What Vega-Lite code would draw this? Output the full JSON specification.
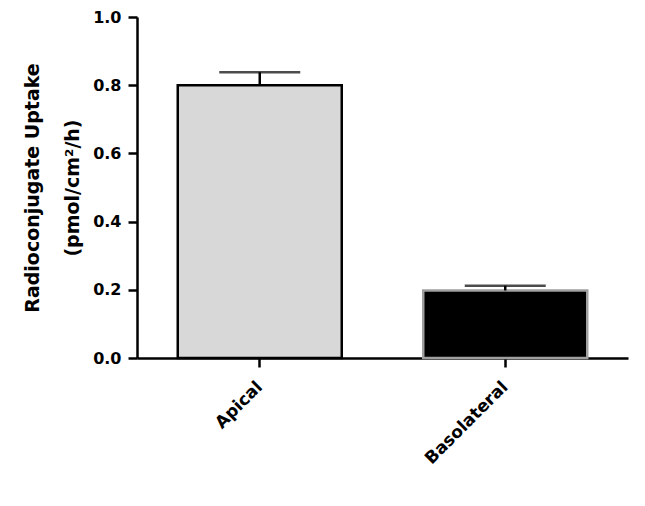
{
  "$schema": "https://vega.github.io/schema/vega-lite/v6.json",
  "autosize": "none",
  "padding": {"left": 137, "top": 17, "right": 17, "bottom": 148},
  "width": 491,
  "height": 341,
  "background": "white",
  "data": {"values": [
    {"group": "Apical", "mean": 0.80, "upper": 0.838},
    {"group": "Basolateral", "mean": 0.198, "upper": 0.212}
  ]},
  "encoding": {
    "x": {"field": "group", "type": "nominal", "sort": null,
      "scale": {"paddingInner": 0.332, "paddingOuter": 0.166},
      "axis": {"title": null, "labelAngle": -45, "labelAlign": "right", "labelBaseline": "middle",
        "labelFont": "DejaVu Sans", "labelFontSize": 17, "labelFontWeight": "bold", "labelColor": "black",
        "labelPadding": 17, "tickSize": 9, "tickWidth": 2.5, "tickColor": "black",
        "domainColor": "black", "domainWidth": 2.5}}
  },
  "layer": [
    {
      "mark": {"type": "bar", "strokeWidth": 2.5},
      "encoding": {
        "y": {"field": "mean", "type": "quantitative",
          "scale": {"domain": [0, 1], "nice": false},
          "axis": {"values": [0, 0.2, 0.4, 0.6, 0.8, 1.0], "format": ".1f", "grid": false,
            "title": ["Radioconjugate Uptake", "(pmol/cm²/h)"],
            "titleFont": "DejaVu Sans", "titleFontSize": 19, "titleFontWeight": "bold", "titleColor": "black",
            "titleLineHeight": 40, "titlePadding": 10,
            "labelFont": "DejaVu Sans", "labelFontSize": 16, "labelFontWeight": "bold", "labelColor": "black",
            "labelPadding": 7, "tickSize": 9, "tickWidth": 2.5, "tickColor": "black",
            "domainColor": "black", "domainWidth": 2.5}},
        "fill": {"field": "group", "type": "nominal", "legend": null,
          "scale": {"domain": ["Apical", "Basolateral"], "range": ["#d8d8d8", "#000000"]}},
        "stroke": {"field": "group", "type": "nominal", "legend": null,
          "scale": {"domain": ["Apical", "Basolateral"], "range": ["#000000", "#a0a0a0"]}}
      }
    },
    {
      "mark": {"type": "rule", "strokeWidth": 2.5, "color": "black"},
      "encoding": {
        "y": {"field": "mean", "type": "quantitative"},
        "y2": {"field": "upper"}
      }
    },
    {
      "mark": {"type": "tick", "thickness": 2.5, "size": 81, "color": "black", "orient": "horizontal"},
      "encoding": {
        "y": {"field": "upper", "type": "quantitative"}
      }
    }
  ],
  "config": {"view": {"stroke": null}}
}
